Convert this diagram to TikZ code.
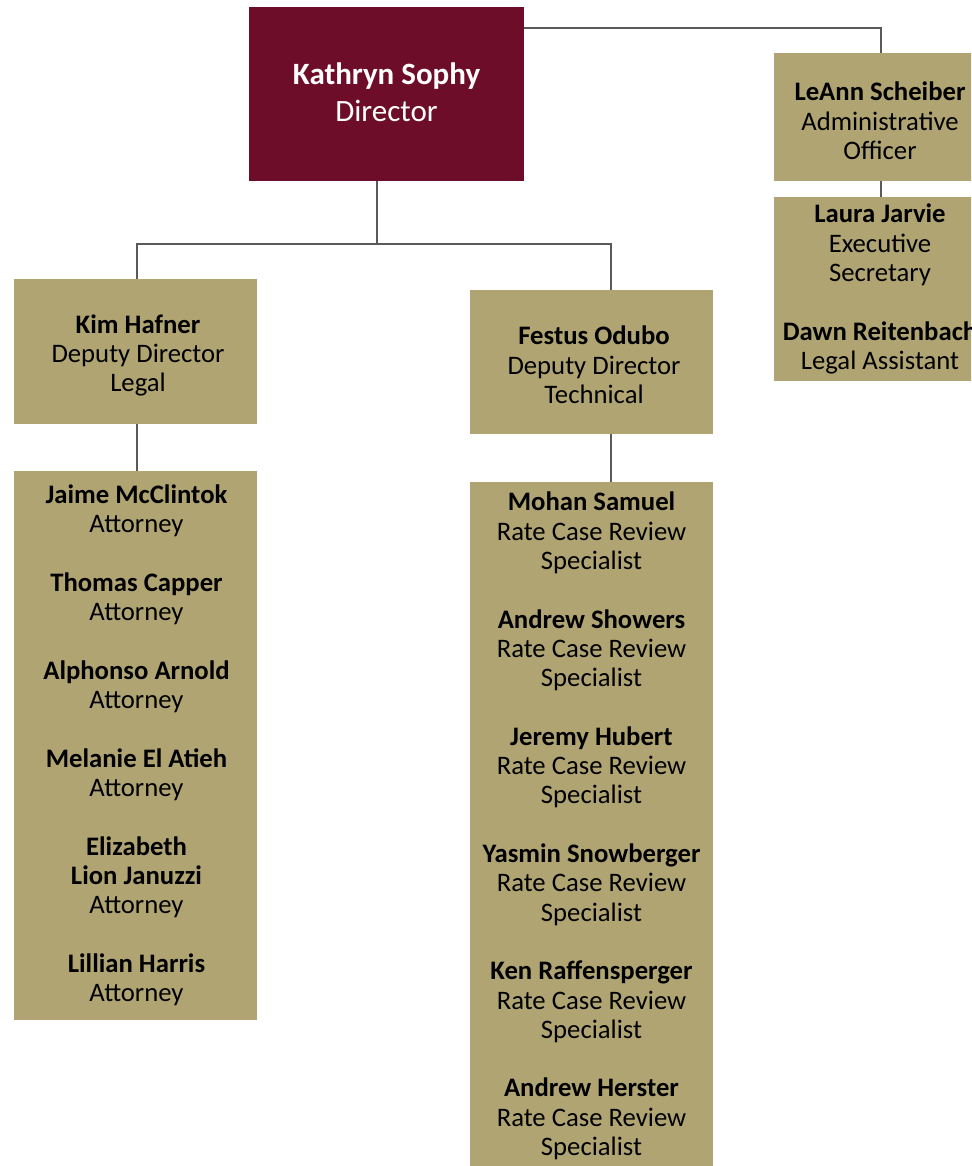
\documentclass[tikz,border=0pt]{standalone}
\usepackage{fontspec}
\setmainfont{Carlito}
\definecolor{maroon}{HTML}{6E0D2A}
\definecolor{gold}{HTML}{B0A572}
\definecolor{linegray}{HTML}{5A5A5A}
\begin{document}
\begin{tikzpicture}[x=1pt,y=-1pt,
  box/.style={draw=none,fill=gold,inner sep=0pt},
  dirbox/.style={draw=none,fill=maroon,inner sep=0pt},
  txt/.style={inner sep=0pt,align=center,text=black,
    font=\fontsize{26.7}{29.3}\selectfont},
  dirtxt/.style={inner sep=0pt,align=center,text=white,
    font=\fontsize{31}{37}\selectfont},
  conn/.style={draw=linegray,line width=1.3pt}]
\useasboundingbox (0,0) rectangle (971,1166);
\clip (0,0) rectangle (971,1166);
\node[dirbox,minimum width=275pt,minimum height=174pt] (dir) at (386.5,94) {};
\node[dirtxt,yshift=2pt] (dirt) at (dir) {\textbf{Kathryn Sophy}\\Director};
\node[box,minimum width=212pt,minimum height=128pt] (leann) at (880,117) {};
\node[txt,yshift=-4pt] (leannt) at (leann)
  {\textbf{LeAnn Scheiber}\\Administrative\\Officer};
\node[box,minimum width=212pt,minimum height=184pt] (laura) at (880,289) {};
\node[txt] (laurat) at (laura)
  {\textbf{Laura Jarvie}\\Executive\\Secretary\\[29.3pt]\textbf{Dawn Reitenbach}\\Legal Assistant};
\node[box,minimum width=243pt,minimum height=145pt] (kim) at (135.5,351.5) {};
\node[txt,yshift=-4pt,xshift=2.5pt] (kimt) at (kim)
  {\textbf{Kim Hafner}\\Deputy Director\\Legal};
\node[box,minimum width=243pt,minimum height=549pt] (legal) at (135.5,745.5) {};
\node[txt,xshift=1pt] (legalt) at (legal)
  {\textbf{Jaime McClintok}\\Attorney\\[29.3pt]
   \textbf{Thomas Capper}\\Attorney\\[29.3pt]
   \textbf{Alphonso Arnold}\\Attorney\\[29.3pt]
   \textbf{Melanie El Atieh}\\Attorney\\[29.3pt]
   \textbf{Elizabeth}\\\textbf{Lion Januzzi}\\Attorney\\[29.3pt]
   \textbf{Lillian Harris}\\Attorney};
\node[box,minimum width=243pt,minimum height=144pt] (festus) at (591.5,362) {};
\node[txt,yshift=-3pt,xshift=2.5pt] (festust) at (festus)
  {\textbf{Festus Odubo}\\Deputy Director\\Technical};
\node[box,minimum width=243pt,minimum height=684pt] (tech) at (591.5,824) {};
\node[txt,yshift=-2pt] (techt) at (tech)
  {\textbf{Mohan Samuel}\\Rate Case Review\\Specialist\\[29.3pt]
   \textbf{Andrew Showers}\\Rate Case Review\\Specialist\\[29.3pt]
   \textbf{Jeremy Hubert}\\Rate Case Review\\Specialist\\[29.3pt]
   \textbf{Yasmin Snowberger}\\Rate Case Review\\Specialist\\[29.3pt]
   \textbf{Ken Raffensperger}\\Rate Case Review\\Specialist\\[29.3pt]
   \textbf{Andrew Herster}\\Rate Case Review\\Specialist};
\coordinate (xd) at (377,0);
\coordinate (xk) at (137,0);
\coordinate (xf) at (611,0);
\coordinate (xa) at (881,0);
\coordinate (bus) at (0,244);
\coordinate (ya) at (0,28);
\draw[conn] (dir.south -| xd) -- (xd |- bus);
\draw[conn] (kim.north -| xk) -- (xk |- bus) -- (xf |- bus) -- (festus.north -| xf);
\draw[conn] (kim.south -| xk) -- (legal.north -| xk);
\draw[conn] (festus.south -| xf) -- (tech.north -| xf);
\draw[conn] (dir.east |- ya) -| (leann.north -| xa);
\draw[conn] (leann.south -| xa) -- (laura.north -| xa);
\end{tikzpicture}
\end{document}
